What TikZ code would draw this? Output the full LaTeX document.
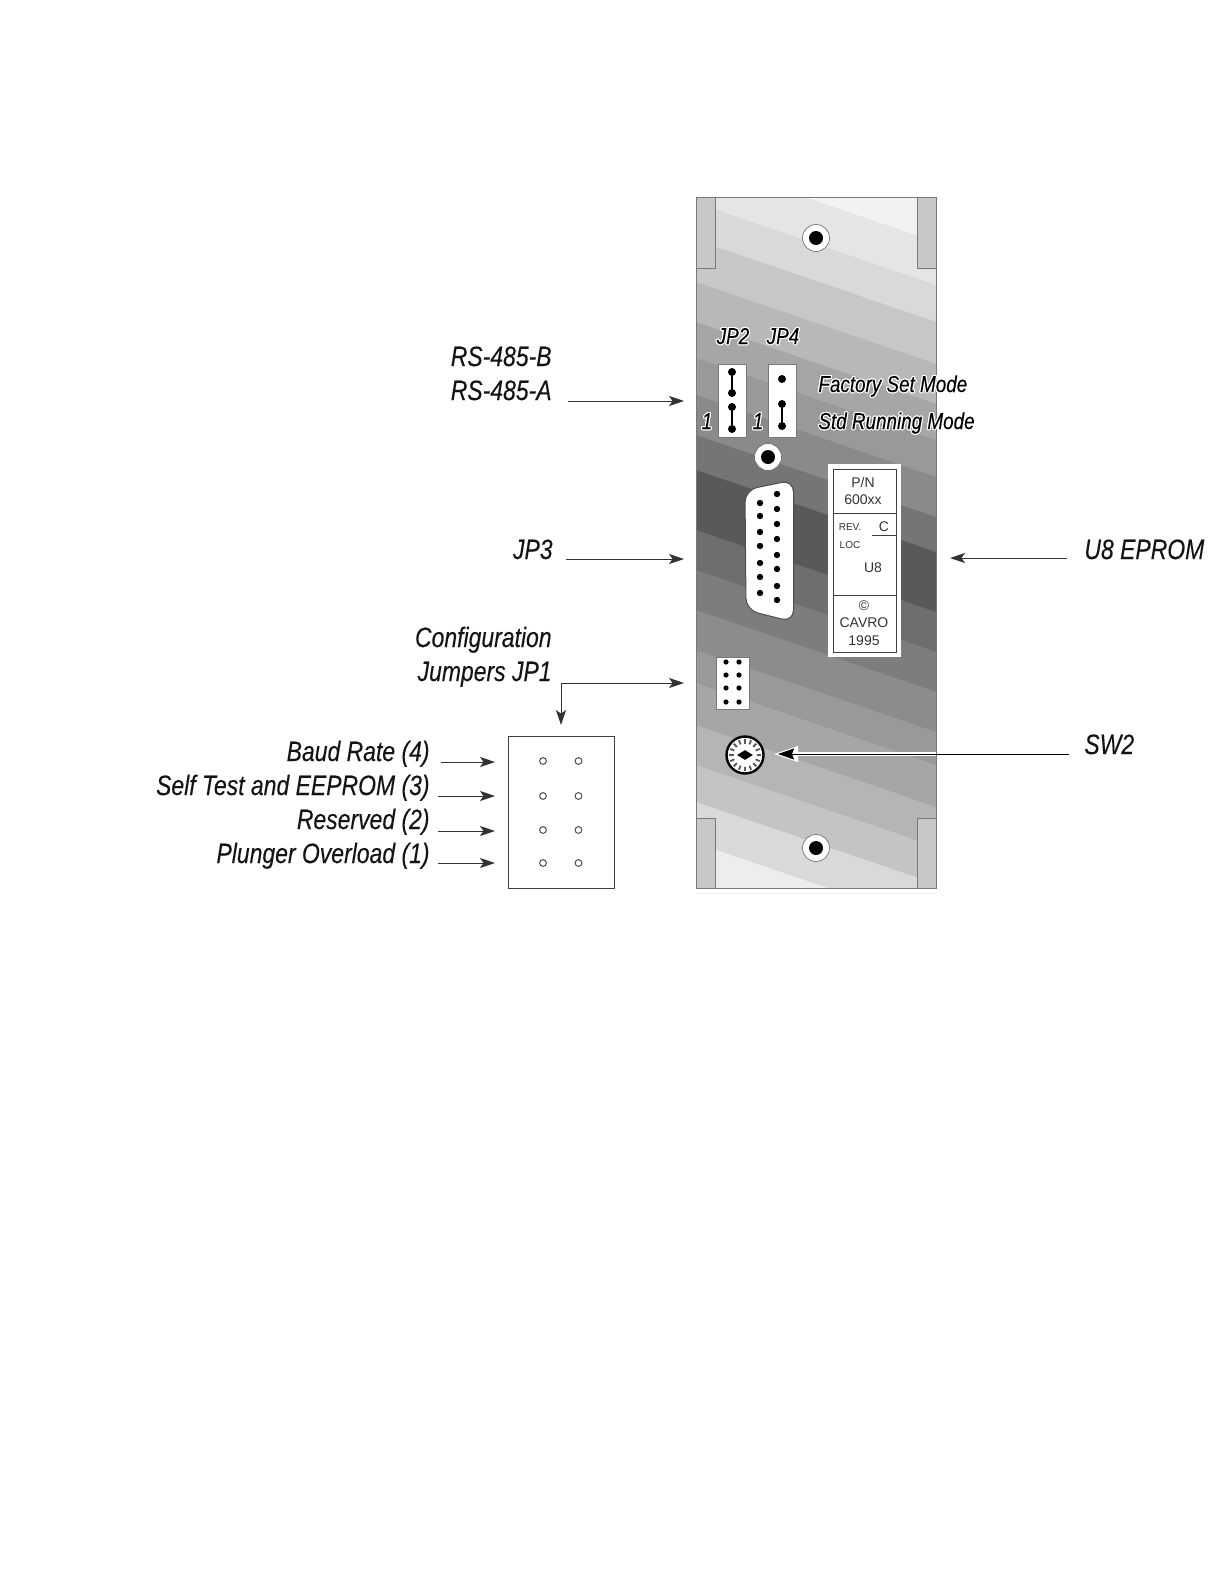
\documentclass[tikz,border=0pt]{standalone}
\usepackage{fontspec}
\usepackage[copies]{contour}
\setmainfont{Liberation Sans}
\newfontfamily\calloutfont[FakeStretch=0.82,ItalicFeatures={FakeBold=0.15}]{Liberation Sans}
\contourlength{0.55pt}
\contournumber{16}
\usetikzlibrary{arrows.meta,positioning,shapes.geometric}
\definecolor{PanelEdge}{RGB}{120,120,120}
\definecolor{TabGray}{RGB}{200,200,200}
\definecolor{LineGray}{RGB}{50,50,50}
\tikzset{
  callout/.style={font=\calloutfont\itshape\fontsize{14}{16}\selectfont,inner sep=0pt,text=black!92},
  panellabel/.style={font=\calloutfont\itshape\fontsize{11.5}{14}\selectfont,inner sep=0pt},
  chiptext/.style={font=\fontsize{7}{8}\selectfont,inner sep=0pt,text=black!80},
  chipsmall/.style={font=\fontsize{5}{6}\selectfont,inner sep=0pt,text=black!80},
  arrow/.style={-{Stealth[length=7.5pt,width=5pt,inset=1.8pt]},line width=0.5pt,LineGray},
  bigarrow/.style={-{Stealth[length=8pt,width=5.5pt,inset=1pt]},line width=0.5pt,black},
  tab/.style={draw=PanelEdge,fill=TabGray,line width=0.5pt},
  whitebox/.style={draw=PanelEdge,fill=white,line width=0.4pt},
  pin/.style={fill=black,circle,inner sep=0pt,minimum size=#1},
  hole/.style={draw=black!70,fill=white,circle,inner sep=0pt,minimum size=3.4pt,line width=0.5pt}
}
\begin{document}
\begin{tikzpicture}[x=0.5pt,y=-0.5pt]
  \useasboundingbox (0,0) rectangle (1224,1584);
  % panel with slanted shading
  \begin{scope}
    \clip (696,197) rectangle (936,888);
    \fill[black!5] (696,197) rectangle (936,888);
    \foreach \ytop/\shade in {160/10,203/15,240/22,282/28,322/35,358/40,395/46,435/54,470/65,
      530/57,570/51,610/45,650/40,683/35,725/29,765/23,802/15,843/7}{
      \fill[black!\shade] (696,\ytop) -- (936,\ytop+82) -- (936,1000) -- (696,1000) -- cycle;
    }
  \end{scope}
  \draw[tab] (696,197) rectangle (715,268);
  \draw[tab] (917,197) rectangle (936,268);
  \draw[tab] (696,818) rectangle (715,888);
  \draw[tab] (917,818) rectangle (936,888);
  \node[draw=PanelEdge,line width=0.5pt,minimum width=120pt,minimum height=345.5pt,inner sep=0pt] (panel) at (816,542.5) {};
  % screws
  \foreach \sx/\sy/\name in {816/238/screwtop,768/457/screwmid,816/848/screwbot}{
    \node[circle,draw=black!60,fill=white,minimum size=13.5pt,inner sep=0pt,line width=0.3pt] (\name) at (\sx,\sy) {};
    \node[pin=7pt] at (\name) {};
  }
  % jumpers JP2 and JP4
  \node[whitebox,minimum width=14pt,minimum height=36.5pt,inner sep=0pt] (jptwo) at (732,400.5) {};
  \node[whitebox,minimum width=14pt,minimum height=36.5pt,inner sep=0pt] (jpfour) at (782,400.5) {};
  \foreach \py/\name in {372/a,393/b,407/c,429/d}{
    \node[pin=4pt] (jptwo\name) at (732,\py) {};
  }
  \foreach \py/\name in {379/a,404/b,426/c}{
    \node[pin=4pt] (jpfour\name) at (782,\py) {};
  }
  \draw[line width=1pt] (jptwoa) -- (jptwob);
  \draw[line width=1pt] (jptwoc) -- (jptwod);
  \draw[line width=1pt] (jpfourb) -- (jpfourc);
  \node[panellabel,anchor=base] (jptwolabel) at (733,344) {\contour{white}{JP2}};
  \node[panellabel,anchor=base] (jpfourlabel) at (783,344) {\contour{white}{JP4}};
  \node[panellabel,anchor=base] (oneleft) at (707,429) {\contour{white}{1}};
  \node[panellabel,anchor=base] (oneright) at (758,429) {\contour{white}{1}};
  \node[panellabel,anchor=base west] (factory) at (818,392) {\contour{white}{Factory Set Mode}};
  \node[panellabel,anchor=base west] (running) at (818,429) {\contour{white}{Std Running Mode}};
  % connector JP3
  \draw[fill=white,draw=black!70,line width=0.5pt,rounded corners=6pt]
    (745,490) -- (793.5,480) -- (793.5,622) -- (746,610) -- cycle;
  \foreach \py in {494,509,524,539,555,569,586,600}{
    \node[pin=3.2pt] at (777,\py) {};
  }
  \foreach \py in {503,516,532,546,563,577,593}{
    \node[pin=3.2pt] at (760,\py) {};
  }
  % EPROM label
  \node[fill=white,minimum width=36.5pt,minimum height=96.5pt,inner sep=0pt] (eprom) at (864.5,560.5) {};
  \node[draw=black!75,line width=0.5pt,minimum width=31.5pt,minimum height=91.5pt,inner sep=0pt] (epromframe) at (864.5,560.5) {};
  \draw[black!75,line width=0.5pt] (833,513) -- (896,513);
  \draw[black!75,line width=0.5pt] (833,595) -- (896,595);
  \draw[black!75,line width=0.5pt] (872,535) -- (896,535);
  \node[chiptext] (partno) at (863,482) {P/N};
  \node[chiptext] (partnum) at (863,500) {600xx};
  \node[chipsmall] (rev) at (850,527) {REV.};
  \node[chiptext] (revc) at (884,527) {C};
  \node[chipsmall] (loc) at (850,545) {LOC};
  \node[chiptext] (ueight) at (873,568) {U8};
  \node[chiptext] (copy) at (864,606) {©};
  \node[chiptext] (cavro) at (864,623) {CAVRO};
  \node[chiptext] (year) at (864,641) {1995};
  % jumper block JP1
  \node[whitebox,minimum width=16.5pt,minimum height=26pt,inner sep=0pt] (jpone) at (732.5,683) {};
  \foreach \py in {662,675,688,702}{
    \node[pin=2.6pt] at (726,\py) {};
    \node[pin=2.6pt] at (739,\py) {};
  }
  % rotary switch
  \node[circle,draw=black,fill=white,line width=1.2pt,minimum size=18.5pt,inner sep=0pt] (switch) at (745,755) {};
  \foreach \a in {0,22.5,...,337.5}{
    \draw[black!65,line width=0.9pt] (745,755) ++(\a:11.5) -- ++(\a:4.5);
  }
  \node[diamond,fill=black,minimum width=8pt,minimum height=5pt,inner sep=0pt] (switchpoint) at (745,755) {};
  % small pin block
  \node[draw=black!75,fill=white,line width=0.5pt,minimum width=53pt,minimum height=76pt,inner sep=0pt] (pinblock) at (561.5,812) {};
  \foreach \py in {761,796,830,863}{
    \node[hole] at (543,\py) {};
    \node[hole] at (578.5,\py) {};
  }
  % labels
  \node[callout,anchor=base east] (rsb) at (552,366) {RS-485-B};
  \node[callout,anchor=base east] (rsa) at (552,400) {RS-485-A};
  \node[callout,anchor=base east] (jpthree) at (553,559) {JP3};
  \node[callout,anchor=base east] (config) at (552,647) {Configuration};
  \node[callout,anchor=base east] (jumpers) at (552,681) {Jumpers JP1};
  \node[callout,anchor=base east] (baud) at (430,761) {Baud Rate (4)};
  \node[callout,anchor=base east] (selftest) at (430,795) {Self Test and EEPROM (3)};
  \node[callout,anchor=base east] (reserved) at (430,829) {Reserved (2)};
  \node[callout,anchor=base east] (plunger) at (430,863) {Plunger Overload (1)};
  \node[callout,anchor=base west] (ueprom) at (1084,559) {U8 EPROM};
  \node[callout,anchor=base west] (swtwo) at (1084,754) {SW2};
  % arrows
  \coordinate (rstail) at (568,401);
  \coordinate (rstip) at (684,401);
  \coordinate (jptail) at (566,559);
  \coordinate (jptip) at (684,559);
  \coordinate (eptail) at (1067,558);
  \coordinate (eptip) at (950,558);
  \coordinate (cfbend) at (561,683);
  \coordinate (cftip) at (684,683);
  \coordinate (cfdown) at (561,725);
  \coordinate (swtail) at (1069,754);
  \coordinate (swtip) at (778,754);
  \draw[arrow] (rstail) -- (rstip);
  \draw[arrow] (jptail) -- (jptip);
  \draw[arrow] (eptail) -- (eptip);
  \draw[arrow] (cfbend) -- (cftip);
  \draw[arrow] (cfbend) -- (cfdown);
  \draw[white,line width=1.8pt] (936,754) -- (790,754);
  \fill[white] (774,754) -- (798,746) -- (798,762) -- cycle;
  \draw[bigarrow] (swtail) -- (swtip);
  \coordinate (baudtail) at (441,762);
  \coordinate (baudtip) at (495,762);
  \coordinate (selftail) at (438,796);
  \coordinate (selftip) at (495,796);
  \coordinate (restail) at (438,831);
  \coordinate (restip) at (495,831);
  \coordinate (plutail) at (438,863);
  \coordinate (plutip) at (495,863);
  \draw[arrow] (baudtail) -- (baudtip);
  \draw[arrow] (selftail) -- (selftip);
  \draw[arrow] (restail) -- (restip);
  \draw[arrow] (plutail) -- (plutip);
\end{tikzpicture}
\end{document}
